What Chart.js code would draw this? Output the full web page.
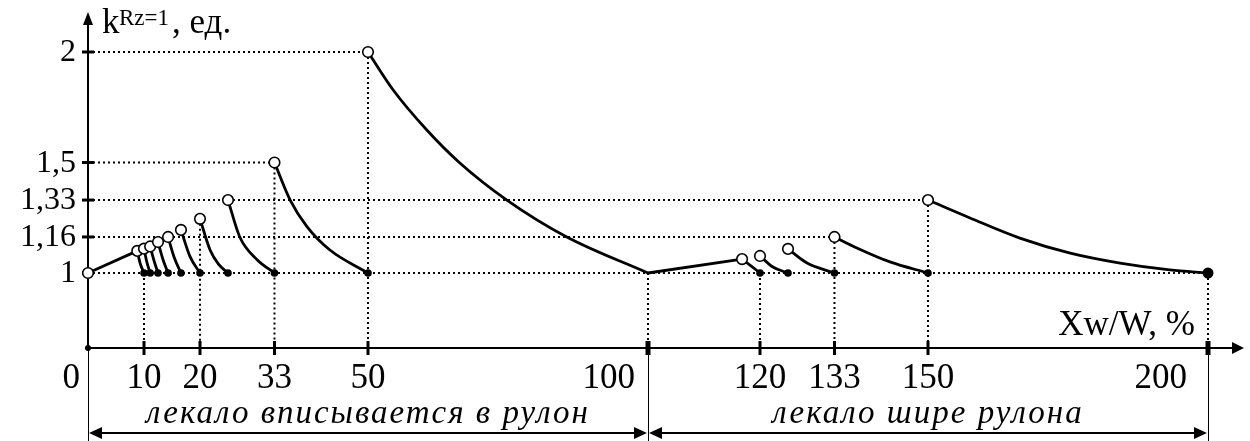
<!DOCTYPE html>
<html>
<head>
<meta charset="utf-8">
<script src="https://cdn.jsdelivr.net/npm/chart.js@4/dist/chart.umd.min.js"></script>
<style>
  body { margin: 0; background: #fff; }
  #wrap { width: 1250px; height: 441px; }
</style>
</head>
<body>
<div id="wrap"><canvas id="grafico" width="1250" height="441"></canvas></div>
<script>
// curve pieces, [x %, k]
const ramp1 = [[0, 1], [8.8, 1.1]];
const arc10 = [[8.8, 1.1], [9.3, 1.045], [10, 1]];
const arc11 = [[10, 1.11], [10.5, 1.05], [11.1, 1]];
const arc12 = [[11.1, 1.12], [11.8, 1.055], [12.5, 1]];
const arc14 = [[12.5, 1.14], [13.4, 1.06], [14.3, 1]];
const arc17 = [[14.3, 1.163], [15.4, 1.07], [16.6, 1]];
const arc20 = [[16.6, 1.195], [18.2, 1.075], [20, 1]];
const arc25 = [[20, 1.245], [21.8, 1.104], [23.3, 1.04], [25, 1]];
const arc33 = [[25, 1.33], [27.1, 1.163], [30.2, 1.06], [33.3, 1]];
const arc50 = [[33.3, 1.5], [36.1, 1.33], [39.1, 1.21], [43.2, 1.104], [50, 1]];
const arc100 = [[50, 2], [54.5, 1.828], [60.5, 1.647], [66.4, 1.498], [74.8, 1.33], [85.5, 1.163], [100, 1]];
const ramp2 = [[100, 1], [116.8, 1.063]];
const arc120 = [[116.8, 1.063], [118.5, 1.03], [120, 1]];
const arc125 = [[120, 1.077], [122.3, 1.027], [125, 1]];
const arc133 = [[125, 1.109], [128.4, 1.045], [133.3, 1]];
const arc150 = [[133.3, 1.163], [137.3, 1.113], [143.2, 1.05], [150, 1]];
const arc200 = [[150, 1.33], [157.5, 1.249], [166.4, 1.158], [175.4, 1.09], [184.3, 1.045], [193.2, 1.014], [200, 1]];

// open circles (left ends) and black dots (right ends)
const openX = [0, 8.8, 10, 11.1, 12.5, 14.3, 16.6, 20, 25, 33.3, 50, 116.8, 120, 125, 133.3, 150];
const openY = [1, 1.1, 1.11, 1.12, 1.14, 1.163, 1.195, 1.245, 1.33, 1.5, 2, 1.063, 1.077, 1.109, 1.163, 1.33];
const dotX = [10, 11.1, 12.5, 14.3, 16.6, 20, 25, 33.3, 50, 120, 125, 133.3, 150];
const dotY = [1, 1, 1, 1, 1, 1, 1, 1, 1, 1, 1, 1, 1];
const endX = [200];
const endY = [1];

// dotted guides
const hGuideY = [2, 1.5, 1.33, 1.163, 1];
const hGuideEnd = [50, 33.3, 150, 133.3, 200];
const vGuideX = [10, 20, 33.3, 50, 100, 120, 133.3, 150, 200];
const vGuideTop = [1, 1.245, 1.5, 2, 1, 1, 1.163, 1.33, 1];

// ticks
const xTicks = [10, 20, 33.3, 50, 100, 120, 133.3, 150, 200];
const xTickLabels = ["10", "20", "33", "50", "100", "120", "133", "150", "200"];
const yTicks = [1, 1.163, 1.33, 1.5, 2];
const yTickLabels = ["1", "1,16", "1,33", "1,5", "2"];

// ranges under the axis
const spanFrom = [0, 100];
const spanTo = [100, 200];
const spanText = ["лекало вписывается в рулон", "лекало шире рулона"];

const Y_MIN = 0.6606;
const Y_MAX = 2.1764;
const X_MAX = 206.25;

const toPts = arr => arr.map(p => ({ x: p[0], y: p[1] }));
const zip = (xs, ys) => xs.map((v, i) => ({ x: v, y: ys[i] }));

const curvas = [ramp1, arc10, arc11, arc12, arc14, arc17, arc20, arc25, arc33, arc50, arc100,
  ramp2, arc120, arc125, arc133, arc150, arc200];

const datasets = [
  { data: zip(endX, endY), pointRadius: 5.5, pointBackgroundColor: "#000", pointBorderWidth: 0, showLine: false, clip: false },
  { data: zip(dotX, dotY), pointRadius: 3.8, pointBackgroundColor: "#000", pointBorderWidth: 0, showLine: false, clip: false },
  { data: zip(openX, openY), pointRadius: 5.3, pointBackgroundColor: "#fff", pointBorderColor: "#000", pointBorderWidth: 1.6, showLine: false, clip: false }
];
curvas.forEach(c => {
  datasets.push({
    data: toPts(c), showLine: true, borderColor: "#000", borderWidth: 2.8,
    pointRadius: 0, cubicInterpolationMode: "monotone", clip: false
  });
});

const arrow = (ctx, x, y, dir, len, half) => {
  ctx.beginPath();
  if (dir === "up") { ctx.moveTo(x, y); ctx.lineTo(x - half, y + len); ctx.lineTo(x + half, y + len); }
  if (dir === "right") { ctx.moveTo(x, y); ctx.lineTo(x - len, y - half); ctx.lineTo(x - len, y + half); }
  if (dir === "left") { ctx.moveTo(x, y); ctx.lineTo(x + len, y - half); ctx.lineTo(x + len, y + half); }
  ctx.closePath();
  ctx.fill();
};

const ejes = {
  id: "ejes",
  beforeDraw(chart) {
    const ctx = chart.ctx;
    ctx.save();
    ctx.fillStyle = "#fff";
    ctx.fillRect(0, 0, chart.width, chart.height);
    ctx.restore();
  },
  beforeDatasetsDraw(chart) {
    const ctx = chart.ctx;
    const xs = chart.scales.x, ys = chart.scales.y;
    const px = v => xs.getPixelForValue(v);
    const py = v => ys.getPixelForValue(v);
    const x0 = px(0), y0 = py(Y_MIN);
    ctx.save();
    ctx.strokeStyle = "#000";
    ctx.fillStyle = "#000";

    // dotted guides
    ctx.setLineDash([2, 3]);
    ctx.lineWidth = 2;
    hGuideY.forEach((v, i) => {
      ctx.beginPath();
      ctx.moveTo(x0, py(v));
      ctx.lineTo(px(hGuideEnd[i]), py(v));
      ctx.stroke();
    });
    vGuideX.forEach((v, i) => {
      ctx.beginPath();
      ctx.moveTo(px(v), py(vGuideTop[i]));
      ctx.lineTo(px(v), y0);
      ctx.stroke();
    });
    ctx.setLineDash([]);

    // axes
    ctx.lineWidth = 2;
    ctx.beginPath();
    ctx.moveTo(x0, y0);
    ctx.lineTo(x0, 20);
    ctx.moveTo(x0, y0);
    ctx.lineTo(1236, y0);
    ctx.stroke();
    arrow(ctx, x0, 12, "up", 13, 5);
    arrow(ctx, 1244, y0, "right", 12, 6);
    ctx.beginPath();
    ctx.arc(x0, y0, 3, 0, Math.PI * 2);
    ctx.fill();

    // thin lines down to the ranges
    ctx.lineWidth = 1;
    [0, 100, 200].forEach(v => {
      ctx.beginPath();
      ctx.moveTo(Math.round(px(v)) + 0.5, y0);
      ctx.lineTo(Math.round(px(v)) + 0.5, 441);
      ctx.stroke();
    });

    // tick marks
    ctx.lineWidth = 3;
    yTicks.forEach(v => {
      ctx.beginPath();
      ctx.moveTo(x0 - 6, py(v));
      ctx.lineTo(x0 + 6, py(v));
      ctx.stroke();
    });
    xTicks.forEach(v => {
      ctx.lineWidth = (v === 100 || v === 200) ? 5 : 3;
      ctx.beginPath();
      ctx.moveTo(px(v), y0 - 7);
      ctx.lineTo(px(v), y0 + 7);
      ctx.stroke();
    });

    // tick labels
    ctx.font = '32px "Liberation Serif"';
    ctx.textAlign = "right";
    ctx.textBaseline = "middle";
    yTicks.forEach((v, i) => ctx.fillText(yTickLabels[i], 76, py(v) + 1));

    ctx.font = '35px "Liberation Serif"';
    ctx.textBaseline = "alphabetic";
    ctx.textAlign = "right";
    ctx.fillText("0", 80, 388);
    xTicks.forEach((v, i) => {
      if (v === 100 || v === 200) {
        ctx.textAlign = "right";
        ctx.fillText(xTickLabels[i], px(v) - (v === 100 ? 13 : 21), 388);
      } else {
        ctx.textAlign = "center";
        ctx.fillText(xTickLabels[i], px(v), 388);
      }
    });

    // axis titles
    ctx.textAlign = "right";
    ctx.fillText("Xw/W, %", 1195, 335);
    ctx.textAlign = "left";
    ctx.fillText("k", 102, 33);
    ctx.font = '23px "Liberation Serif"';
    ctx.fillText("Rz=1", 119, 25);
    ctx.font = '35px "Liberation Serif"';
    ctx.fillText(", ед.", 172, 33);

    // ranges with arrows
    const ya = 433;
    ctx.lineWidth = 2;
    spanFrom.forEach((v, i) => {
      const a = px(v), b = px(spanTo[i]);
      ctx.beginPath();
      ctx.moveTo(a + 8, ya);
      ctx.lineTo(b - 8, ya);
      ctx.stroke();
      arrow(ctx, a + 1, ya, "left", 13, 6);
      arrow(ctx, b - 1, ya, "right", 13, 6);
      ctx.font = 'italic 33px "Liberation Serif"';
      ctx.letterSpacing = "2px";
      ctx.textAlign = "center";
      ctx.fillText(spanText[i], (a + b) / 2, 423);
      ctx.letterSpacing = "0px";
    });
    ctx.restore();
  }
};

new Chart(document.getElementById("grafico"), {
  type: "scatter",
  data: { datasets: datasets },
  options: {
    responsive: false,
    animation: false,
    layout: { padding: { left: 88, right: 7, top: 13, bottom: 93 } },
    plugins: { legend: { display: false }, tooltip: { enabled: false } },
    scales: {
      x: { type: "linear", min: 0, max: X_MAX, display: false },
      y: { type: "linear", min: Y_MIN, max: Y_MAX, display: false }
    }
  },
  plugins: [ejes]
});
</script>
</body>
</html>
